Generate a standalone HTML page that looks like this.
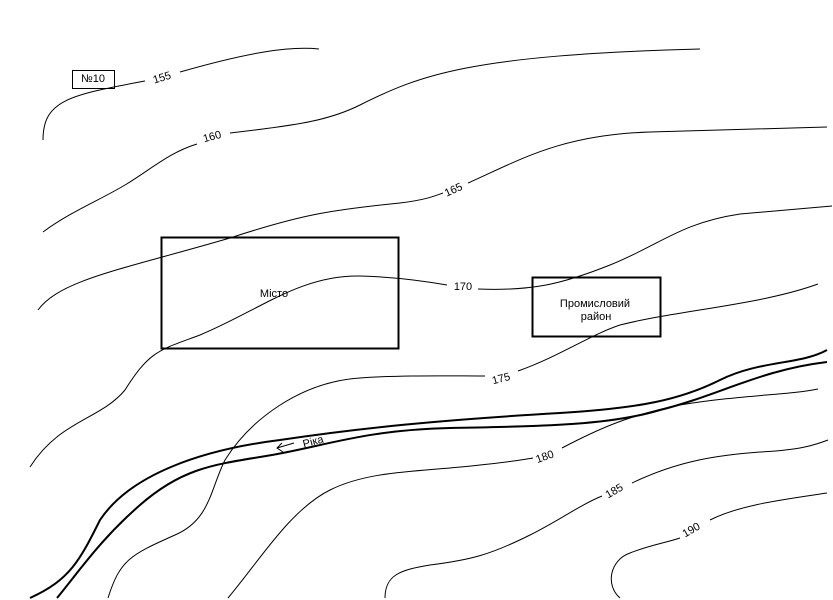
<!DOCTYPE html>
<html><head><meta charset="utf-8"><style>html,body{margin:0;padding:0;background:#fff}svg{display:block}</style></head>
<body>
<svg width="833" height="600" viewBox="0 0 833 600" xmlns="http://www.w3.org/2000/svg" font-family="Liberation Sans, sans-serif">
<g fill="none" stroke="#000" stroke-width="1">
<path d="M43,140 C43,100 70,95 145,81"/>
<path d="M180,72 C250,52 290,46 319,49"/>
<path d="M43,232 C70,212 100,200 125,185 C150,170 170,152 197,144"/>
<path d="M230,133 C300,125 330,120 360,105 C420,75 470,55 700,49"/>
<path d="M38,310 C60,280 120,270 230,238 C300,215 330,210 400,203 C425,200 435,196 443,193"/>
<path d="M468,183 C520,160 560,135 650,132 L827,127"/>
<path d="M30,467 C60,420 100,420 125,390 C150,350 160,350 200,335 C260,310 300,275 360,276 C400,277 430,282 447,285"/>
<path d="M478,289 C530,291 560,285 610,265 C660,245 680,223 740,214 L832,206"/>
<path d="M108,598 C120,560 130,555 175,535 C210,520 210,490 225,460 C250,420 300,382 360,378 C400,375 450,376 485,376"/>
<path d="M518,371 C560,356 590,335 620,325 C680,310 760,305 818,284"/>
<path d="M228,598 C260,560 290,510 330,490 C370,470 420,472 480,465 C510,462 520,460 533,458"/>
<path d="M562,448 C600,428 630,415 680,405 C740,395 790,395 818,389"/>
<path d="M385,598 C385,575 400,570 430,565 C470,560 490,555 530,535 C560,520 580,505 602,496"/>
<path d="M632,483 C680,460 720,455 760,452 C800,450 815,445 828,440"/>
<path d="M620,598 C605,585 610,560 630,553 C650,545 665,543 680,538"/>
<path d="M710,520 C740,505 780,500 827,493"/>
</g>
<g fill="none" stroke="#000" stroke-width="2">
<path d="M30,598 C70,580 80,560 100,520 C130,475 200,450 280,440 C360,428 440,420 560,413 C640,408 680,400 720,380 C760,360 800,365 827,350"/>
<path d="M57,598 C80,570 100,540 140,505 C180,470 210,465 260,457 C320,448 360,430 450,428 C550,426 610,425 660,410 C720,395 760,370 827,362"/>
<rect x="161.5" y="237.5" width="237" height="111"/>
<rect x="532.5" y="277.5" width="128" height="59"/>
</g>
<rect x="72.5" y="70.5" width="42" height="18" fill="none" stroke="#000" stroke-width="1"/>
<g font-size="11" fill="#000" text-anchor="middle">
<text x="93" y="82">№10</text>
<text x="274" y="297">Місто</text>
<text x="595" y="307">Промисловий</text>
<text x="596" y="320">район</text>
<text transform="translate(163,81) rotate(-17)">155</text>
<text transform="translate(213,140) rotate(-15)">160</text>
<text transform="translate(455,193) rotate(-25)">165</text>
<text x="463" y="290">170</text>
<text transform="translate(502,382) rotate(-15)">175</text>
<text transform="translate(546,460) rotate(-20)">180</text>
<text transform="translate(616,494) rotate(-30)">185</text>
<text transform="translate(693,533) rotate(-30)">190</text>
<text transform="translate(314,445) rotate(-15)">Ріка</text>
</g>
<path d="M294,443 L277,448 M282,443 L277,448 L283,452" fill="none" stroke="#000" stroke-width="1"/>
</svg>
</body></html>
